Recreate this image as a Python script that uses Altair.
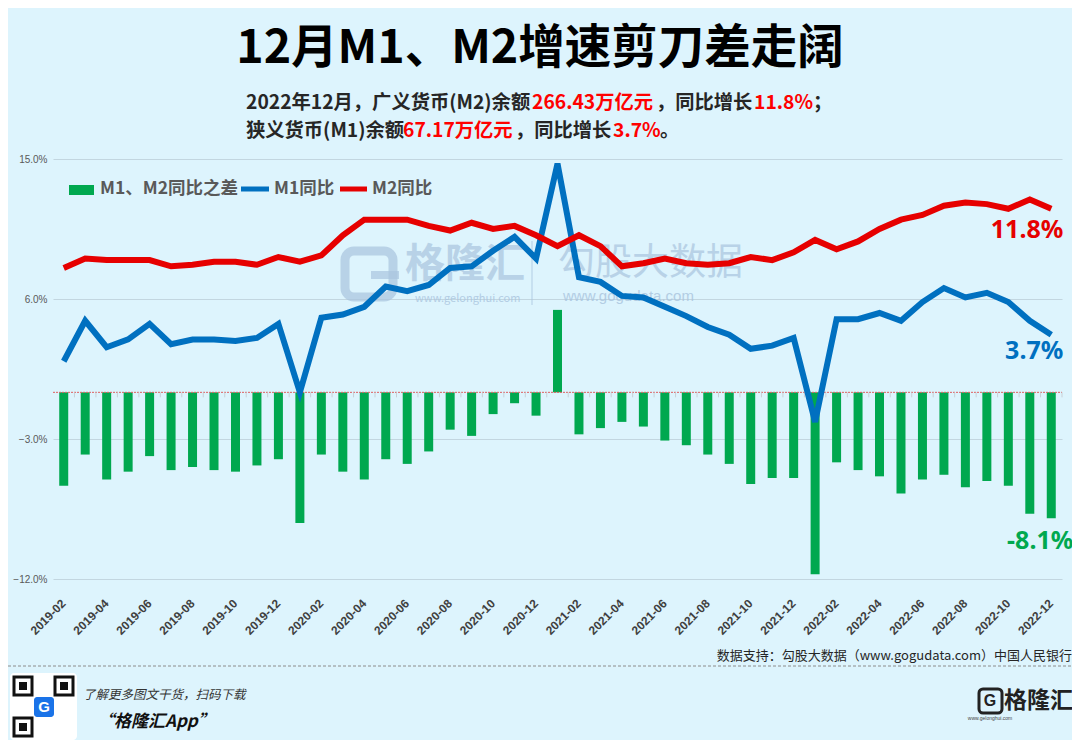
import altair as alt
import pandas as pd

# ---------------- data ----------------
months = [f"{y}-{m:02d}" for y in range(2019, 2023) for m in range(1, 13)][1:]  # 2019-02 .. 2022-12

m1 = [2.0, 4.6, 2.9, 3.4, 4.4, 3.1, 3.4, 3.4, 3.3, 3.5, 4.4,
      0.0, 4.8, 5.0, 5.5, 6.8, 6.5, 6.9, 8.0, 8.1, 9.1, 10.0, 8.6,
      14.7, 7.4, 7.1, 6.2, 6.1, 5.5, 4.9, 4.2, 3.7, 2.8, 3.0, 3.5,
      -1.9, 4.7, 4.7, 5.1, 4.6, 5.8, 6.7, 6.1, 6.4, 5.8, 4.6, 3.7]
m2 = [8.0, 8.6, 8.5, 8.5, 8.5, 8.1, 8.2, 8.4, 8.4, 8.2, 8.7,
      8.4, 8.8, 10.1, 11.1, 11.1, 11.1, 10.7, 10.4, 10.9, 10.5, 10.7, 10.1,
      9.4, 10.1, 9.4, 8.1, 8.3, 8.6, 8.3, 8.2, 8.3, 8.7, 8.5, 9.0,
      9.8, 9.2, 9.7, 10.5, 11.1, 11.4, 12.0, 12.2, 12.1, 11.8, 12.4, 11.8]
diff = [round(a - b, 1) for a, b in zip(m1, m2)]

y_ticks = [15, 6, -3, -12]
x_label_values = months[::2]

df = pd.DataFrame({"month": months, "m1": m1, "m2": m2, "diff": diff})

# ---------------- style ----------------
BG = "#DDF4FD"
GREEN = "#00A84F"
BLUE = "#0070C0"
RED = "#E60000"
GRID = "#C2D6E0"
CJK = "Noto Sans CJK SC"
W, H = 1009, 420

xenc = alt.X(
    "month:N",
    sort=months,
    scale=alt.Scale(domain=months, paddingInner=0, paddingOuter=0),
    axis=alt.Axis(
        title=None, values=x_label_values, labelAngle=-45, labelAlign="right",
        labelBaseline="middle", labelPadding=22, ticks=False, domain=False, grid=False,
        labelFont="Liberation Sans", labelFontSize=12, labelFontWeight="bold",
        labelColor="#404040",
    ),
)
yscale = alt.Scale(domain=[-12, 15], nice=False, zero=False)
yaxis = alt.Axis(
    title=None, values=y_ticks, labelExpr="format(datum.value, '.1f') + '%'",
    ticks=False, domain=False, grid=True, gridColor=GRID, gridWidth=1.2,
    labelFont="Liberation Sans", labelFontSize=10, labelColor="#595959", labelPadding=6,
)

base = alt.Chart(df)

one = pd.DataFrame({"t": [""]})


def txt(text, x, y, size, color="#262626", weight="normal", align="left",
        font=CJK, opacity=1.0, style=None, baseline="middle"):
    kw = dict(align=align, baseline=baseline, fontSize=size, color=color,
              fontWeight=weight, font=font, opacity=opacity)
    if style:
        kw["fontStyle"] = style
    return alt.Chart(pd.DataFrame({"t": [text]})).mark_text(**kw).encode(
        x=alt.value(x), y=alt.value(y), text="t:N")


def box(x, x2, y, y2, fill, stroke=None, sw=0, radius=0, opacity=1.0):
    kw = dict(fill=fill, cornerRadius=radius, opacity=opacity)
    if stroke:
        kw.update(stroke=stroke, strokeWidth=sw)
    return alt.Chart(one).mark_rect(**kw).encode(
        x=alt.value(x), x2=alt.value(x2), y=alt.value(y), y2=alt.value(y2))


def hline(x, x2, y, color, sw, dash=None, opacity=1.0):
    kw = dict(color=color, strokeWidth=sw, opacity=opacity)
    if dash:
        kw["strokeDash"] = dash
    return alt.Chart(one).mark_rule(**kw).encode(
        x=alt.value(x), x2=alt.value(x2), y=alt.value(y))


def vline(x, y, y2, color, sw, opacity=1.0):
    return alt.Chart(one).mark_rule(color=color, strokeWidth=sw, opacity=opacity).encode(
        x=alt.value(x), y=alt.value(y), y2=alt.value(y2))


# ---------------- watermark ----------------
WM = "#A9C4DE"
watermark = [
    box(292, 340, 92, 138, fill="transparent", stroke=WM, sw=9, radius=9, opacity=0.7),
    box(318, 346, 112, 120, fill=WM, opacity=0.7),
    txt("格隆汇", 352, 106, 40, color=WM, weight="bold", opacity=0.7),
    txt("www.gelonghui.com", 362, 140, 11, color=WM, opacity=0.8),
    vline(479, 82, 146, WM, 1.2, opacity=0.7),
    txt("勾股大数据", 505, 105, 37, color=WM, opacity=0.7),
    txt("www.gogudata.com", 510, 137, 15, color=WM, opacity=0.8, font="Liberation Sans"),
]

# ---------------- data layers ----------------
zero_px = (15 - 0) / 27 * H
bars = base.mark_bar(width=9, color=GREEN).encode(
    x=xenc, y=alt.Y("diff:Q", scale=yscale, axis=yaxis))
zero_line = hline(0, W, zero_px, "#E06060", 1, dash=[2, 1])
ticks = base.mark_rule(color="#C8D0D6", strokeWidth=1, xOffset=W / 47 / 2).encode(
    x=alt.X("month:N", sort=months), y=alt.value(zero_px), y2=alt.value(zero_px + 5))
line_m1 = base.mark_line(color=BLUE, strokeWidth=6).encode(
    x=alt.X("month:N", sort=months), y=alt.Y("m1:Q", scale=yscale))
line_m2 = base.mark_line(color=RED, strokeWidth=6).encode(
    x=alt.X("month:N", sort=months), y=alt.Y("m2:Q", scale=yscale))

last = pd.DataFrame({"month": [months[-1]], "m1": [m1[-1]], "m2": [m2[-1]], "diff": [diff[-1]]})


def end_label(field, color, dx, dy):
    return alt.Chart(last).transform_calculate(
        lbl=f"toString(datum['{field}']) + '%'"
    ).mark_text(
        align="right", baseline="middle", dx=dx, dy=dy, fontSize=25, fontWeight="bold",
        color=color, font="Noto Sans",
    ).encode(x=alt.X("month:N", sort=months), y=alt.Y(f"{field}:Q", scale=yscale), text="lbl:N")


lab_m2 = end_label("m2", RED, 12, 21)
lab_m1 = end_label("m1", BLUE, 12, 16)
lab_d = end_label("diff", GREEN, 22, 23)

# ---------------- legend ----------------
LEG = "#595959"
legend = [
    box(16, 41, 26, 36, fill=GREEN),
    txt("M1、M2同比之差", 47, 30, 17.5, color=LEG, weight="bold"),
    hline(188, 216, 30, BLUE, 5),
    txt("M1同比", 221, 30, 17.5, color=LEG, weight="bold"),
    hline(287, 314, 30, RED, 5),
    txt("M2同比", 319, 30, 17.5, color=LEG, weight="bold"),
]

# ---------------- titles ----------------
DARK = "#262626"
R2 = "#FF0000"
FS = 19.3
titles = [
    txt("12月M1、M2增速剪刀差走阔", 487, -110, 46.5, color="#000000", weight="bold", align="center"),
    txt("2022年12月，广义货币(M2)余额", 193, -56, FS, color=DARK, weight="bold"),
    txt("266.43万亿元", 479, -56, FS, color=R2, weight="bold"),
    txt("，同比增长", 603, -56, FS, color=DARK, weight="bold"),
    txt("11.8%", 701, -56, FS, color=R2, weight="bold"),
    txt("；", 760, -56, FS, color=DARK, weight="bold"),
    txt("狭义货币(M1)余额", 193, -28, FS, color=DARK, weight="bold"),
    txt("67.17万亿元", 350, -28, FS, color=R2, weight="bold"),
    txt("，同比增长", 462, -28, FS, color=DARK, weight="bold"),
    txt("3.7%", 560, -28, FS, color=R2, weight="bold"),
    txt("。", 607, -28, FS, color=DARK, weight="bold"),
]

# ---------------- footer ----------------
footer = [
    txt("数据支持：勾股大数据（www.gogudata.com）中国人民银行", 1019, 497, 13, color=DARK, align="right"),
    hline(-45, 1019, 507, "#8C8C8C", 1, dash=[3, 2]),
    box(-43, 24, 514, 581, fill="#FFFFFF", radius=4),
    box(-39, -21, 518, 536, fill="transparent", stroke="#111111", sw=3),
    box(2, 20, 518, 536, fill="transparent", stroke="#111111", sw=3),
    box(-39, -21, 559, 577, fill="transparent", stroke="#111111", sw=3),
    box(-34, -26, 523, 531, fill="#111111"),
    box(7, 15, 523, 531, fill="#111111"),
    box(-34, -26, 564, 572, fill="#111111"),
    box(-19, 1, 538, 558, fill="#1A73E8", radius=3),
    txt("G", -9, 548, 15, color="#FFFFFF", weight="bold", align="center", font="Liberation Sans"),
    txt("了解更多图文干货，扫码下载", 30, 536, 12.5, color="#333333", style="italic"),
    txt("“格隆汇App”", 44, 563, 17, color="#111111", weight="bold", style="italic"),
    box(926, 949, 530, 554, fill="transparent", stroke="#222222", sw=3, radius=4),
    txt("G", 937, 542, 16, color="#222222", weight="bold", align="center", font="Liberation Sans"),
    txt("格隆汇", 951, 542, 23, color="#222222", weight="bold"),
    txt("www.gelonghui.com", 937, 559, 5, color="#444444", align="center", font="Liberation Sans"),
]

chart = alt.layer(
    *watermark, bars, zero_line, ticks, line_m1, line_m2, lab_m2, lab_m1, lab_d,
    *legend, *titles, *footer,
).properties(
    width=W, height=H,
    autosize=alt.AutoSizeParams(type="none"),
    padding={"left": 45, "top": 151, "right": 10, "bottom": 161},
    background=BG,
).configure_view(stroke=None)

chart.save("out.html", embed_options={"renderer": "svg", "actions": False})
